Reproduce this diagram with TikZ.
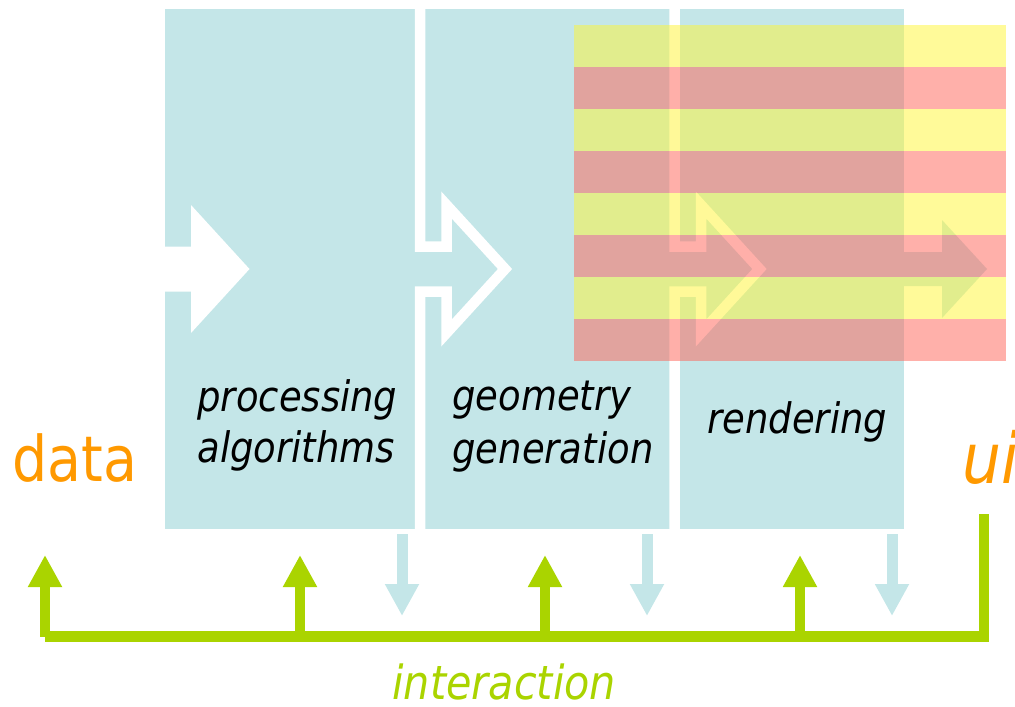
\documentclass[tikz,border=0pt]{standalone}
\usepackage{fontspec}
\setmainfont{DejaVu Sans}[FakeStretch=0.88]
\usetikzlibrary{arrows.meta}
\definecolor{panelblue}{RGB}{196,230,232}
\definecolor{stripeyellow}{RGB}{255,245,51}
\definecolor{stripered}{RGB}{255,97,85}
\definecolor{linkgreen}{RGB}{170,212,0}
\definecolor{ioorange}{RGB}{255,153,0}

\begin{document}
\begin{tikzpicture}[
  x=0.5pt, y=-0.5pt,
  gap/.style={draw=white, line width=5.25pt, miter limit=10},
  stage/.style={font=\fontsize{21}{25}\selectfont\itshape, inner sep=0pt, anchor=base west},
  io/.style={text=ioorange, inner sep=0pt, anchor=base west},
  bus/.style={draw=linkgreen, line width=5.2pt},
  uparr/.style={bus, -{Triangle[width=16pt,length=16pt]}},
  downarr/.style={draw=panelblue, line width=5.5pt, -{Triangle[width=16pt,length=16pt]}}
]
\useasboundingbox (0,0) rectangle (1015,706);

% pipeline band, cut into stages by white gaps
\fill[panelblue] (165,9) rectangle (904,529);
\fill[white] (165,246.5) -- (191,246.5) -- (191,205) -- (249.5,269)
  -- (191,333) -- (191,291.5) -- (165,291.5) -- cycle;
\draw[gap] (420,9) -- (420,246.5) -- (446.5,246.5) -- (446.5,205) -- (505,269)
  -- (446.5,333) -- (446.5,291.5) -- (420,291.5) -- (420,529);
\draw[gap] (674.5,9) -- (674.5,246.5) -- (701,246.5) -- (701,205) -- (759.5,269)
  -- (701,333) -- (701,291.5) -- (674.5,291.5) -- (674.5,529);
\fill[panelblue] (904,252) -- (942,252) -- (942,220) -- (987,269)
  -- (942,318) -- (942,286) -- (904,286) -- cycle;

% screen
\foreach \i/\c in {0/stripeyellow,1/stripered,2/stripeyellow,3/stripered,
                   4/stripeyellow,5/stripered,6/stripeyellow,7/stripered}
  \fill[\c, opacity=0.5] (574,25+42*\i) rectangle (1006,67+42*\i);

\node[stage] (proc-a) at (197,411) {processing};
\node[stage] (proc-b) at ([yshift=-25.5pt]proc-a.base west) {algorithms};
\node[stage] (geom-a) at (452,410) {geometry};
\node[stage] (geom-b) at ([yshift=-26.5pt]geom-a.base west) {generation};
\node[stage] (render) at (707,433) {rendering};

\node[io, font=\fontsize{31.5}{36}\selectfont] (data) at (12,481) {data};
\node[io, font=\fontsize{35}{40}\selectfont\itshape] (ui) at (962,483) {ui};

% feedback
\coordinate (ui-foot) at (984,514);
\coordinate (bus-r) at (984,636.5);
\coordinate (bus-l) at (45,636.5);
\foreach \x [count=\k] in {45,300,545,800} {
  \coordinate (in\k) at (\x,555);
  \coordinate (tap\k) at (\x,636.5);
}
\foreach \x [count=\k] in {402,647,892} {
  \coordinate (out\k) at (\x,534);
  \coordinate (evt\k) at (\x,616);
  \draw[downarr] (out\k) -- (evt\k);
}
\draw[bus] (ui-foot) -- (bus-r) -- (bus-l) -- (tap1);
\foreach \k in {1,...,4}
  \draw[uparr] (tap\k) -- (in\k);

\node[text=linkgreen, font=\fontsize{23.5}{28}\selectfont\itshape,
  inner sep=0pt, anchor=base west] (interaction) at (392,699) {interaction};
\end{tikzpicture}
\end{document}
